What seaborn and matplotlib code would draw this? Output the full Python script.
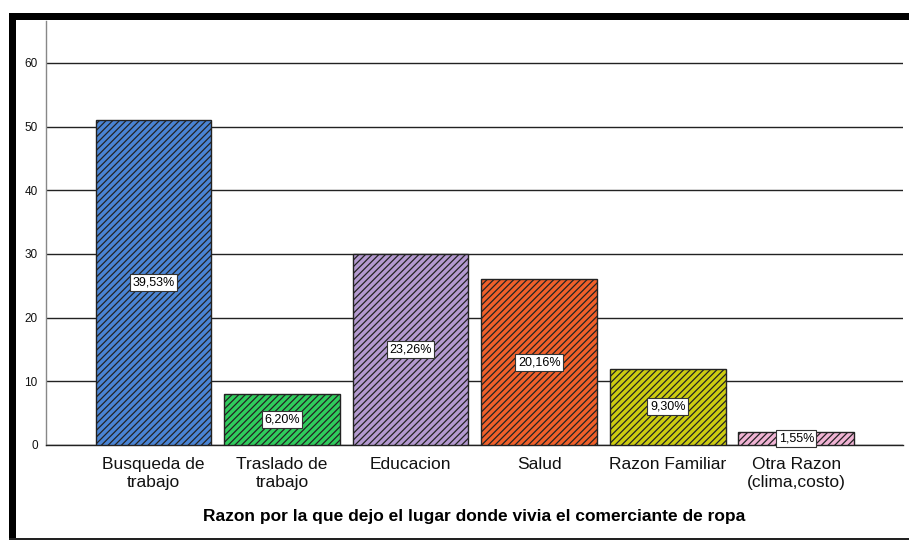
import matplotlib
matplotlib.use("Agg")
import matplotlib.pyplot as plt
import seaborn as sns
import pandas as pd
from matplotlib.patches import Rectangle

# --- Datos ---
categorias = ["Busqueda de\ntrabajo", "Traslado de\ntrabajo", "Educacion",
              "Salud", "Razon Familiar", "Otra Razon\n(clima,costo)"]
frecuencias = [51, 8, 30, 26, 12, 2]
etiquetas = ["39,53%", "6,20%", "23,26%", "20,16%", "9,30%", "1,55%"]
colores = ["#4a84d4", "#2fcc5c", "#b49ad0", "#f0602a", "#cccc10", "#f0b4d4"]
titulo_x = "Razon por la que dejo el lugar donde vivia el comerciante de ropa"

df = pd.DataFrame({"Razon": categorias, "Frecuencia": frecuencias})

sns.set_theme(style="white")
plt.rcParams['font.family'] = ['Liberation Sans', 'DejaVu Sans']
plt.rcParams['hatch.linewidth'] = 0.9
plt.rcParams['hatch.color'] = '#1a1a1a'
plt.rcParams['text.color'] = 'black'
plt.rcParams['xtick.color'] = '#111111'
plt.rcParams['ytick.color'] = '#111111'
plt.rcParams['axes.labelcolor'] = 'black'

fig = plt.figure(figsize=(9.09, 5.42), dpi=100)
ax = fig.add_axes([0.0506, 0.179, 0.9428, 0.7823])

sns.barplot(data=df, x="Razon", y="Frecuencia", hue="Razon", palette=colores,
            width=0.9, edgecolor="#222222", linewidth=1.0, legend=False,
            saturation=1, ax=ax, zorder=3)

for p, lab, v in zip(ax.patches, etiquetas, frecuencias):
    p.set_hatch("/////")
    cx = p.get_x() + p.get_width() / 2
    ax.text(cx, v / 2, lab, ha="center", va="center", fontsize=9, zorder=5,
            bbox=dict(boxstyle="square,pad=0.2", fc="white", ec="#333333", lw=0.8))

ax.set_ylim(0, 66.6)
ax.set_xlim(-0.836, 5.83)
ax.set_yticks(range(0, 61, 10))
ax.yaxis.grid(True, color="#222222", linewidth=1.0, zorder=0)
ax.set_axisbelow(True)
ax.tick_params(axis="y", labelsize=8.5, length=0, pad=6)
ax.tick_params(axis="x", labelsize=12.5, length=0, pad=9)
ax.set_ylabel("")
ax.set_xlabel(titulo_x, fontsize=12.5, fontweight="bold", labelpad=14)

for s in ["top", "right"]:
    ax.spines[s].set_visible(False)
ax.spines["left"].set_color("#888888")
ax.spines["left"].set_linewidth(1.0)
ax.spines["bottom"].set_color("#222222")
ax.spines["bottom"].set_linewidth(1.0)

# marco negro estilo SPSS
W, H = 909, 542
fig.add_artist(Rectangle((9 / W, 1 - 20 / H), 1 - 9 / W, 7 / H, transform=fig.transFigure,
                         color="black", lw=0))
fig.add_artist(Rectangle((9 / W, 1 - 540 / H), 7 / W, 527 / H, transform=fig.transFigure,
                         color="black", lw=0))
fig.add_artist(Rectangle((9 / W, 1 - 540 / H), 1 - 9 / W, 2 / H, transform=fig.transFigure,
                         color="#222222", lw=0))

fig.savefig("out.png", dpi=100)
